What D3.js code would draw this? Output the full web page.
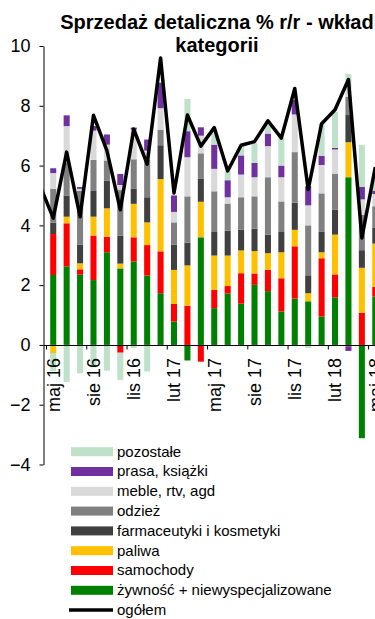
<!DOCTYPE html>
<html><head><meta charset="utf-8">
<script src="https://cdn.jsdelivr.net/npm/d3@7"></script>
<style>
body{margin:0;background:#fff}
svg{display:block;font-family:"Liberation Sans",Arial,sans-serif}
</style>
</head><body>
<svg id="c" width="375" height="619"></svg>
<script>
// ---- data ----
const months = ["kwi 16","maj 16","cze 16","lip 16","sie 16","wrz 16","paź 16","lis 16","gru 16",
  "sty 17","lut 17","mar 17","kwi 17","maj 17","cze 17","lip 17","sie 17","wrz 17","paź 17","lis 17","gru 17",
  "sty 18","lut 18","mar 18","kwi 18","maj 18"];
const tickMonths = ["maj 16","sie 16","lis 16","lut 17","maj 17","sie 17","lis 17","lut 18","maj 18"];
const yTicks = [-4,-2,0,2,4,6,8,10];
const names = ["żywność + niewyspecjalizowane","samochody","paliwa","farmaceutyki i kosmetyki","odzież","meble, rtv, agd","prasa, książki","pozostałe"];
const colors = ["#008000","#ff0000","#ffc000","#404040","#808080","#d9d9d9","#7030a0","#bfe1c9"];

const food     = [null,2.34,2.63,2.35,2.17,3.10,2.56,2.79,2.32,1.73,0.78,-0.52,3.60,1.23,1.72,1.38,2.01,1.80,1.12,1.55,1.46,0.95,1.59,5.61,-3.12,1.62];
const cars     = [null,1.37,1.44,0.18,1.49,0.52,-0.26,0.81,1.02,1.40,0.59,1.31,-0.56,0.61,0.25,1.02,0.38,0.71,1.11,1.75,0,1.95,0.77,-0.05,1.08,0.32];
const fuel     = [null,-0.27,0.22,0.20,0.63,0.95,0.16,1.12,0.76,2.42,1.14,1.35,1.19,1.15,1.02,0.76,0.75,0.56,0.87,0.55,0.27,0.20,1.33,1.17,1.50,1.45];
const pharma   = [null,0.38,0.71,0.62,0.86,0.93,0.94,0.50,0.84,1.13,0.84,0.76,0.78,0.81,0.83,0.70,0.75,0.62,0.70,0.91,0.60,0.68,0.84,0.91,0.59,0.54];
const clothing = [null,1.13,1.10,1.80,1.04,0.67,1.52,0.99,1.26,0.52,0.75,1.55,0.84,1.34,0.91,1.08,1.08,1.92,1.00,1.69,1.67,1.29,1.20,0.61,1.18,0.71];
const furniture= [null,0.53,1.22,0.07,0.98,0.53,0.17,0.99,0.30,0.72,0.35,1.31,0.59,0.75,0.21,0.76,0.64,1.04,0.81,1.26,0.67,0.95,0.81,0.30,0.52,0.41];
const press    = [null,0.16,0.36,0.06,0.15,0.34,0.37,0.07,0.37,0.85,0.55,0.87,0.28,0.81,0.57,0.64,0.48,0.42,0.39,0.48,0.64,0.31,0.05,-0.15,0.42,0.10];
const other    = [null,-0.60,-1.24,-0.95,-0.75,-0.86,-0.91,-0.10,-0.89,0,0,1.08,0,0.38,0.30,0.31,0.67,0.34,0.93,0,-0.10,1.07,1.21,0.46,1.40,0.49];
const total    = [5.35,4.24,6.45,4.29,7.68,6.5,4.52,7.22,6.05,9.6,5.08,7.69,6.65,7.27,5.82,6.68,6.8,7.5,6.92,8.58,5.2,7.4,7.87,8.88,3.58,5.95];

// ---- chart ----
const series = [food,cars,fuel,pharma,clothing,furniture,press,other];
const svg = d3.select("#c");
const y = d3.scaleLinear().domain([-4,10]).range([464.5,46]);
const x = d3.scaleBand().domain(months).range([33.1,382]).paddingInner(0.55).paddingOuter(0.275);
const step = x.step(), bw = x.bandwidth();
const cx = m => x(m) + bw/2;

const rows = months.map((m,i)=>{const r={m}; series.forEach((s,j)=>{r[names[j]] = s[i]==null?0:s[i];}); return r;});
const stacked = d3.stack().keys(names).offset(d3.stackOffsetDiverging)(rows);

svg.append("defs").append("clipPath").attr("id","plot")
  .append("rect").attr("x",43.5).attr("y",0).attr("width",340).attr("height",619);

const plot = svg.append("g").attr("clip-path","url(#plot)");

stacked.forEach((layer,j)=>{
  plot.append("g").attr("fill",colors[j])
    .selectAll("rect").data(layer.filter(d=>d[1]!==d[0])).join("rect")
    .attr("x",d=>x(d.data.m)).attr("width",bw)
    .attr("y",d=>y(Math.max(d[0],d[1])))
    .attr("height",d=>Math.abs(y(d[0])-y(d[1])));
});

// y axis
const ya = svg.append("g").attr("transform","translate(43.5,0)")
  .call(d3.axisLeft(y).tickValues(yTicks).tickSize(4).tickSizeOuter(0).tickPadding(9));
ya.select(".domain").attr("stroke","#000");
ya.selectAll(".tick line").attr("stroke","#000");
ya.selectAll(".tick text").attr("font-size",18).attr("fill","#000")
  .attr("font-family","'Liberation Sans',Arial,sans-serif");

// x axis at zero
const y0 = Math.round(y(0))+0.5;
svg.append("line").attr("x1",43.5).attr("x2",375).attr("y1",y0).attr("y2",y0).attr("stroke","#000");
svg.append("g").selectAll("line").data(tickMonths).join("line")
  .attr("x1",m=>cx(m)-step/2).attr("x2",m=>cx(m)-step/2)
  .attr("y1",y0).attr("y2",y0+4).attr("stroke","#000");
svg.append("g").selectAll("text").data(tickMonths).join("text")
  .attr("transform",m=>`translate(${cx(m)},358) rotate(-90)`)
  .attr("text-anchor","end").attr("dy","0.35em").attr("font-size",18).attr("fill","#000")
  .text(m=>m);

// total line
plot.append("path").datum(total)
  .attr("fill","none").attr("stroke","#000").attr("stroke-width",3.5).attr("stroke-linejoin","round")
  .attr("d",d3.line().x((d,i)=>cx(months[i])).y(d=>y(d)));

// title
const t = svg.append("text").attr("text-anchor","middle").attr("font-weight","bold").attr("font-size",20).attr("fill","#000");
t.append("tspan").attr("x",217).attr("y",29).text("Sprzedaż detaliczna % r/r - wkład");
t.append("tspan").attr("x",217).attr("y",51.5).text("kategorii");

// legend
const legendOrder = [7,6,5,4,3,2,1,0];
const lg = svg.append("g");
legendOrder.forEach((j,i)=>{
  const cy = 451.7 + i*19.8;
  lg.append("rect").attr("x",71).attr("y",cy-4.5).attr("width",42).attr("height",9).attr("fill",colors[j]);
  lg.append("text").attr("x",117).attr("y",cy).attr("dy","0.32em").attr("font-size",15).attr("fill","#000").text(names[j]);
});
const ly = 451.7 + 8*19.8;
lg.append("line").attr("x1",69).attr("x2",113).attr("y1",ly).attr("y2",ly).attr("stroke","#000").attr("stroke-width",3.5);
lg.append("text").attr("x",117).attr("y",ly).attr("dy","0.32em").attr("font-size",15).attr("fill","#000").text("ogółem");
</script>
</body></html>
